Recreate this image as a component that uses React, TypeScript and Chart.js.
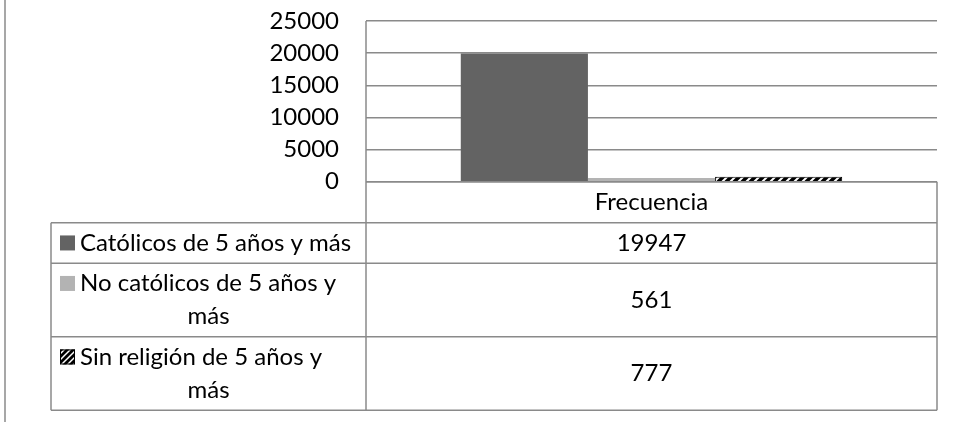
import React, { useEffect, useRef } from "react";
import { Chart, registerables } from "chart.js";

Chart.register(...registerables);

const categories = ["Frecuencia"];
const seriesNames = [
  "Católicos de 5 años y más",
  "No católicos de 5 años y más",
  "Sin religión de 5 años y más",
];
const seriesValues = [19947, 561, 777];
const yMax = 25000;
const yStep = 5000;
const seriesColors = ["#636363", "#b3b3b3", "hatch"];

const FONT = "Lato, 'Open Sans', sans-serif";
const FONT_SIZE = 24;
const LINE = "#8a8a8a";

function makeHatch(ctx: CanvasRenderingContext2D, size = 8): CanvasPattern | string {
  const c = document.createElement("canvas");
  c.width = size;
  c.height = size;
  const g = c.getContext("2d");
  if (!g) return "#000";
  g.fillStyle = "#000";
  g.fillRect(0, 0, size, size);
  g.strokeStyle = "#fff";
  g.lineWidth = size / 4;
  g.beginPath();
  g.moveTo(0, size);
  g.lineTo(size, 0);
  g.moveTo(-size / 2, size / 2);
  g.lineTo(size / 2, -size / 2);
  g.moveTo(size / 2, size * 1.5);
  g.lineTo(size * 1.5, size / 2);
  g.stroke();
  return ctx.createPattern(c, "repeat") || "#000";
}

function wrap(ctx: CanvasRenderingContext2D, text: string, firstWidth: number, width: number): string[] {
  const words = text.split(" ");
  const lines: string[] = [];
  let cur = "";
  for (const w of words) {
    const test = cur ? cur + " " + w : w;
    const max = lines.length === 0 ? firstWidth : width;
    if (ctx.measureText(test).width > max && cur) {
      lines.push(cur);
      cur = w;
    } else {
      cur = test;
    }
  }
  if (cur) lines.push(cur);
  return lines;
}

const tablePlugin = {
  id: "dataTable",
  afterDraw(chart: any) {
    const ctx: CanvasRenderingContext2D = chart.ctx;
    const area = chart.chartArea;
    const yScale = chart.scales.y;
    const axisY = yScale.getPixelForValue(0);
    const colLeft = 51;
    const colMid = area.left;
    const right = area.right;
    const headerH = 41;
    const lineH = 33;
    const rowPad = 7.5;
    const keyX = 60;
    const textX = 80;

    ctx.save();
    ctx.font = `${FONT_SIZE}px ${FONT}`;
    ctx.fillStyle = "#000";
    ctx.textBaseline = "middle";

    const rows = seriesNames.map((name) =>
      wrap(ctx, name, colMid - textX - 4, colMid - colLeft - 10)
    );
    const rowHeights = rows.map((ls) => ls.length * lineH + rowPad);

    const headerBottom = axisY + headerH;
    const tableBottom = headerBottom + rowHeights.reduce((a, b) => a + b, 0);

    ctx.strokeStyle = LINE;
    ctx.lineWidth = 1.5;
    ctx.beginPath();
    ctx.moveTo(5, 0);
    ctx.lineTo(5, chart.height);
    ctx.moveTo(colMid, area.top);
    ctx.lineTo(colMid, tableBottom);
    ctx.moveTo(right, axisY);
    ctx.lineTo(right, tableBottom);
    ctx.moveTo(colLeft, headerBottom);
    ctx.lineTo(colLeft, tableBottom);
    ctx.moveTo(colMid, axisY);
    ctx.lineTo(right, axisY);
    let y = headerBottom;
    ctx.moveTo(colLeft, y);
    ctx.lineTo(right, y);
    rowHeights.forEach((h) => {
      y += h;
      ctx.moveTo(colLeft, y);
      ctx.lineTo(right, y);
    });
    ctx.stroke();

    ctx.textAlign = "center";
    ctx.fillText(categories[0], (colMid + right) / 2, (axisY + headerBottom) / 2);

    y = headerBottom;
    rows.forEach((lines, i) => {
      const h = rowHeights[i];
      const cy = y + h / 2;
      const firstY = cy - ((lines.length - 1) * lineH) / 2;
      const ks = 15;
      const ky = firstY - ks / 2;
      if (seriesColors[i] === "hatch") {
        ctx.fillStyle = makeHatch(ctx, 6) as any;
        ctx.fillRect(keyX, ky, ks, ks);
        ctx.strokeStyle = "#000";
        ctx.lineWidth = 1;
        ctx.strokeRect(keyX + 0.5, ky + 0.5, ks - 1, ks - 1);
      } else {
        ctx.fillStyle = seriesColors[i];
        ctx.fillRect(keyX, ky, ks, ks);
      }
      ctx.fillStyle = "#000";
      lines.forEach((ln, j) => {
        if (j === 0) {
          ctx.textAlign = "left";
          ctx.fillText(ln, textX, firstY);
        } else {
          ctx.textAlign = "center";
          ctx.fillText(ln, (colLeft + colMid) / 2, firstY + j * lineH);
        }
      });
      ctx.textAlign = "center";
      ctx.fillText(String(seriesValues[i]), (colMid + right) / 2, cy);
      y += h;
    });
    ctx.restore();
  },
};

export default function App() {
  const ref = useRef<HTMLCanvasElement | null>(null);

  useEffect(() => {
    document.body.style.margin = "0";
    const canvas = ref.current;
    if (!canvas) return;
    const ctx = canvas.getContext("2d");
    if (!ctx) return;
    const hatch = makeHatch(ctx, 8);

    const chart = new Chart(canvas, {
      type: "bar",
      data: {
        labels: categories,
        datasets: seriesNames.map((name, i) => ({
          label: name,
          data: [seriesValues[i]],
          backgroundColor: seriesColors[i] === "hatch" ? (hatch as any) : seriesColors[i],
          borderColor: seriesColors[i] === "hatch" ? "#000" : seriesColors[i],
          borderWidth: seriesColors[i] === "hatch" ? 1 : 0,
          categoryPercentage: 0.668,
          barPercentage: 1.0,
        })),
      },
      options: {
        animation: false,
        responsive: true,
        maintainAspectRatio: false,
        layout: { padding: { top: 21, right: 17, bottom: 240.3, left: 0 } },
        plugins: {
          legend: { display: false },
          tooltip: { enabled: false },
          title: { display: false },
        },
        scales: {
          x: { display: false },
          y: {
            min: 0,
            max: yMax,
            afterFit: (scale: any) => {
              scale.width = 366;
            },
            ticks: {
              stepSize: yStep,
              color: "#000",
              padding: 0,
              font: { family: FONT, size: FONT_SIZE },
              callback: (v: any) => String(v),
            },
            grid: {
              color: LINE,
              lineWidth: 1.5,
              drawTicks: true,
              tickLength: 27,
              tickColor: "rgba(0,0,0,0)",
            },
            border: { display: false },
          },
        },
      },
      plugins: [tablePlugin],
    });
    return () => chart.destroy();
  }, []);

  return (
    <div style={{ position: "absolute", left: 0, top: 0, width: 954, height: 422, background: "#fff" }}>
      <canvas ref={ref} />
    </div>
  );
}
